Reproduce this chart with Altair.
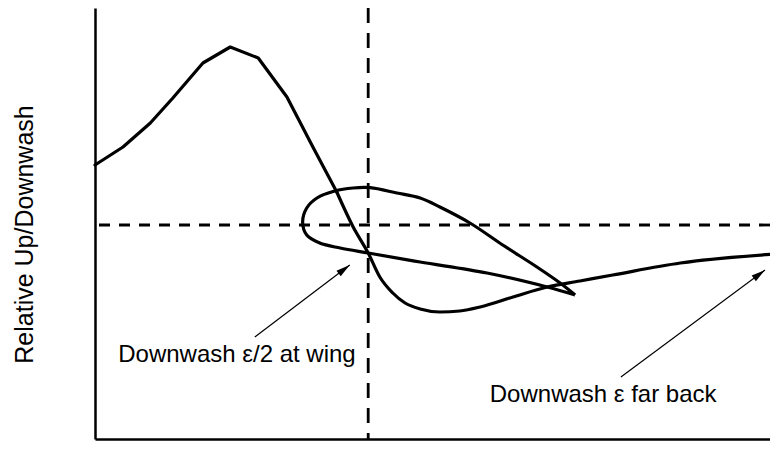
import altair as alt
import pandas as pd
import numpy as np

# Main up/downwash curve (arbitrary units: x 0..10 along flow, y relative up/downwash)
curve_x = [0.0, 0.41, 0.81, 1.14, 1.58, 1.98, 2.39, 2.81, 3.19, 3.54, 3.78, 4.0,
           4.17, 4.36, 4.54, 4.76, 5.05, 5.34, 5.64, 6.12, 6.62, 7.10, 7.58, 8.57, 9.96]
curve_y = [0.60, 0.78, 1.02, 1.27, 1.62, 1.78, 1.67, 1.28, 0.78, 0.33, -0.02, -0.28,
           -0.52, -0.68, -0.78, -0.84, -0.87, -0.86, -0.82, -0.72, -0.62, -0.56, -0.50, -0.38, -0.29]
SPLIT = 9  # hand-drawn straight strokes before this point, smooth sweep after

# Wing section outline: trailing edge -> lower surface -> leading edge -> upper surface -> trailing edge
wing_x = [7.03, 6.62, 5.74, 4.76, 4.00, 3.59, 3.29, 3.10, 3.04,
          3.10, 3.25, 3.51, 3.78, 4.03, 4.42, 4.76, 5.05, 5.49, 5.97, 6.47, 6.81, 7.03]
wing_y = [-0.70, -0.62, -0.48, -0.37, -0.28, -0.23, -0.18, -0.10, 0.03,
          0.17, 0.27, 0.34, 0.37, 0.373, 0.32, 0.27, 0.18, 0.02, -0.20, -0.42, -0.58, -0.70]

# Reference lines
ref_x = [4.0]
ref_y = [0.0]

# Annotations
labels = ["Downwash \u03b5/2 at wing", "Downwash \u03b5 far back"]
label_x = [0.34, 5.78]
label_y = [-1.37, -1.77]
arrow_x0 = [2.34, 7.70]
arrow_y0 = [-1.12, -1.52]
arrow_x1 = [3.73, 9.81]
arrow_y1 = [-0.40, -0.45]

W, H = 675, 431
XD = [0, 9.883]
YD = [-2.14, 2.17]
px_x = W / (XD[1] - XD[0])
px_y = H / (YD[1] - YD[0])

xs = alt.Scale(domain=XD, nice=False, zero=False)
ys = alt.Scale(domain=YD, nice=False, zero=False)

df_curve = pd.DataFrame({"x": curve_x, "y": curve_y, "i": range(len(curve_x))})
df_a = df_curve.iloc[:SPLIT + 1]
df_b = df_curve.iloc[SPLIT:]
df_wing = pd.DataFrame({"x": wing_x, "y": wing_y, "i": range(len(wing_x))})
df_arrow = pd.DataFrame({"x0": arrow_x0, "y0": arrow_y0, "x1": arrow_x1, "y1": arrow_y1})
df_arrow["angle"] = np.degrees(np.arctan2((df_arrow.x1 - df_arrow.x0) * px_x,
                                          (df_arrow.y1 - df_arrow.y0) * px_y))
df_text = pd.DataFrame({"x": label_x, "y": label_y, "t": labels})

Y_TITLE = "Relative Up/Downwash"
y_axis = alt.Axis(title=Y_TITLE, titleFontSize=25, titleFont="Liberation Sans",
                  titleFontWeight="normal", titleColor="black", titleX=-63, titleY=226,
                  titleAngle=270, titleBaseline="alphabetic", titleAlign="center",
                  domain=True, ticks=False, labels=False, grid=False)
x_axis = alt.Axis(title=None, domain=True, ticks=False, labels=False, grid=False)


def X(field):
    return alt.X(field, scale=xs, axis=x_axis, title=None)


def Y(field):
    return alt.Y(field, scale=ys, axis=y_axis, title=Y_TITLE)


curve_a = alt.Chart(df_a).mark_line(color="black", strokeWidth=3.2, interpolate="linear",
                                    strokeJoin="round", strokeCap="round").encode(
    x=X("x:Q"), y=Y("y:Q"), order="i:Q")

curve_b = alt.Chart(df_b).mark_line(color="black", strokeWidth=3.2, interpolate="monotone",
                                    strokeJoin="round", strokeCap="round").encode(
    x=X("x:Q"), y=Y("y:Q"), order="i:Q")

wing = alt.Chart(df_wing).mark_line(color="black", strokeWidth=3.2, interpolate="catmull-rom",
                                    strokeJoin="round").encode(
    x=X("x:Q"), y=Y("y:Q"), order="i:Q")

hline = alt.Chart(pd.DataFrame({"y": ref_y})).mark_rule(
    color="black", strokeWidth=2.8, strokeDash=[11, 9]).encode(y=Y("y:Q"))

vline = alt.Chart(pd.DataFrame({"x": ref_x})).mark_rule(
    color="black", strokeWidth=2.8, strokeDash=[15, 10]).encode(x=X("x:Q"))

arrows = alt.Chart(df_arrow).mark_rule(color="black", strokeWidth=1.2).encode(
    x=X("x0:Q"), y=Y("y0:Q"), x2="x1:Q", y2="y1:Q")

heads = alt.Chart(df_arrow).mark_point(
    shape="M0,0L0.44,1.75L-0.44,1.75Z", filled=True, size=256, color="black", opacity=1,
    strokeWidth=0).encode(
    x=X("x1:Q"), y=Y("y1:Q"), angle=alt.Angle("angle:Q", scale=None))

texts = alt.Chart(df_text).mark_text(
    align="left", baseline="alphabetic", fontSize=24, font="Liberation Sans", color="black").encode(
    x=X("x:Q"), y=Y("y:Q"), text="t:N")

chart = alt.layer(curve_a, curve_b, wing, hline, vline, arrows, heads, texts).properties(
    width=W, height=H,
    padding={"left": 87, "top": 0, "right": 0, "bottom": 2},
    autosize=alt.AutoSizeParams(type="none"),
).configure_view(stroke=None).configure_axis(
    domainColor="black", domainWidth=2.5, ticks=False, labels=False, grid=False
)

chart.save("out.html", embed_options={"renderer": "svg", "actions": False})
